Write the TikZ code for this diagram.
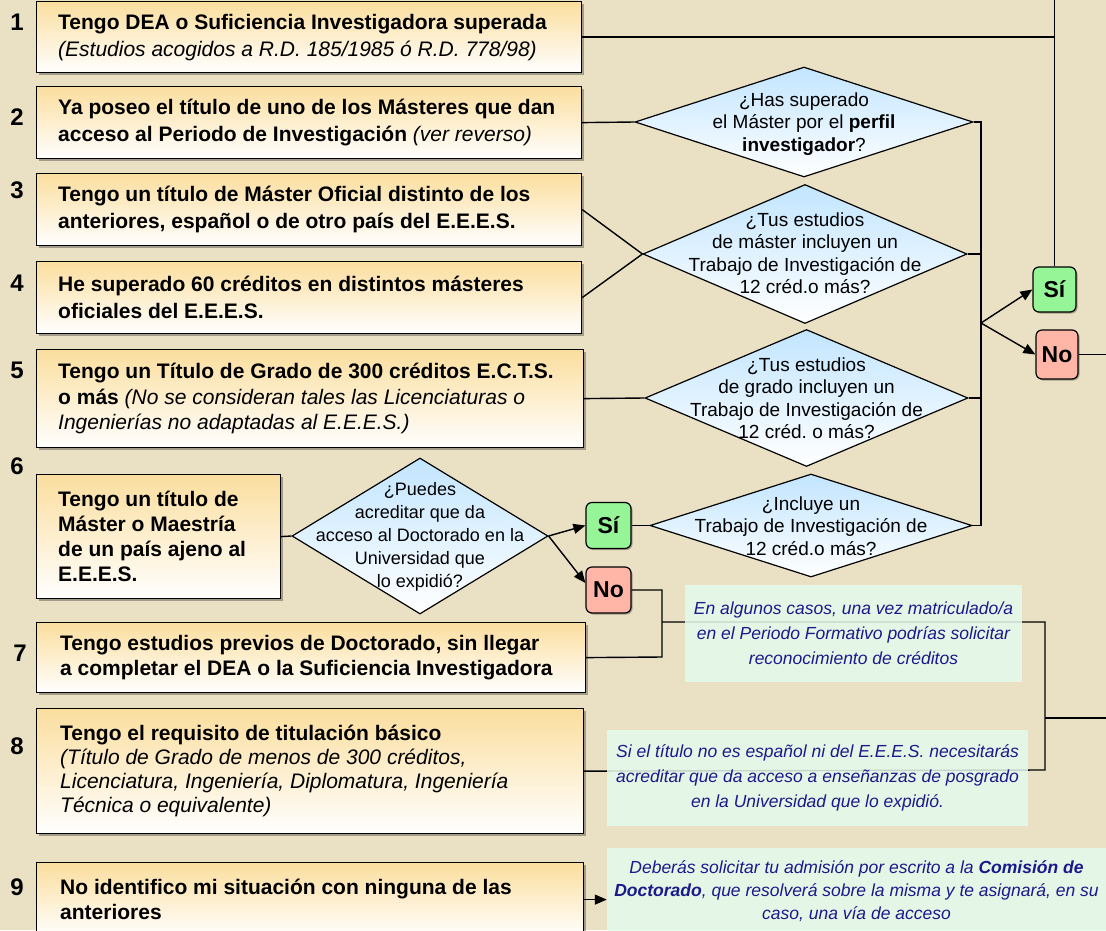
\documentclass[tikz,border=0pt]{standalone}
\usepackage{fontspec}
\setmainfont{Liberation Sans}
\usetikzlibrary{shapes.geometric,arrows.meta,shadows}
\pgfdeclarelayer{bg}
\pgfsetlayers{bg,main}
\definecolor{bgc}{HTML}{EAE0C3}
\definecolor{boxtop}{HTML}{FBDE9E}
\definecolor{dtop}{HTML}{C2E5FF}
\definecolor{sig}{HTML}{96F596}
\definecolor{nor}{HTML}{FFB6A6}
\definecolor{notef}{HTML}{E4FBEC}
\definecolor{notet}{HTML}{1A1A8C}
\frenchspacing
\begin{document}
\begin{tikzpicture}[x=1pt,y=-1pt,
  box/.style={draw, line width=1.2pt, top color=boxtop, bottom color=white, anchor=north west, inner sep=0,
    drop shadow={shadow xshift=2pt, shadow yshift=-2pt, opacity=0.3, fill=black}},
  btxt/.style={align=left, anchor=west, inner sep=0, font=\fontsize{21}{27}\selectfont\bfseries},
  dia/.style={diamond, draw, line width=1.2pt, top color=dtop, bottom color=white, inner sep=0},
  dtxt/.style={align=center, inner sep=0, font=\fontsize{19}{22.5}\selectfont},
  sino/.style={draw, line width=1.2pt, rounded corners=6pt, inner sep=0, font=\fontsize{23}{26}\selectfont\bfseries,
    drop shadow={shadow xshift=1.5pt, shadow yshift=-1.5pt, opacity=0.3, fill=black}},
  num/.style={inner sep=0, font=\fontsize{24}{24}\selectfont\bfseries},
  note/.style={fill=notef, fill opacity=0.85, text opacity=1, text=notet, align=center, inner sep=0,
    font=\fontsize{17.5}{25}\selectfont\itshape},
  conn/.style={line width=1.4pt, draw=black},
  arr/.style={conn, -{Triangle[length=12pt,width=10pt]}}
]
\useasboundingbox (0,0) rectangle (1106,930);
\begin{pgfonlayer}{bg}
\fill[bgc] (0,0) rectangle (1106,930);
\end{pgfonlayer}

% numbers
\node[num] (k1) at (17,22) {1};
\node[num] (k2) at (17,117) {2};
\node[num] (k3) at (17,190) {3};
\node[num] (k4) at (17,283) {4};
\node[num] (k5) at (17,370) {5};
\node[num] (k6) at (17,466) {6};
\node[num] (k7) at (20,653) {7};
\node[num] (k8) at (17,746) {8};
\node[num] (k9) at (17,887) {9};

% boxes
\node[box, minimum width=545, minimum height=71] (b1) at (36,1) {};
\node[btxt] (t1) at ([xshift=22pt]b1.west) {Tengo DEA o Suficiencia Investigadora superada\\{\normalfont\itshape (Estudios acogidos a R.D. 185/1985 ó R.D. 778/98)}};
\node[box, minimum width=545, minimum height=72] (b2) at (36,86) {};
\node[btxt] (t2) at ([xshift=22pt]b2.west) {Ya poseo el título de uno de los Másteres que dan\\acceso al Periodo de Investigación {\normalfont\itshape (ver reverso)}};
\node[box, minimum width=545, minimum height=72] (b3) at (36,173) {};
\node[btxt] (t3) at ([xshift=22pt]b3.west) {Tengo un título de Máster Oficial distinto de los\\anteriores, español o de otro país del E.E.E.S.};
\node[box, minimum width=545, minimum height=72] (b4) at (36,261) {};
\node[btxt] (t4) at ([xshift=22pt]b4.west) {He superado 60 créditos en distintos másteres\\oficiales del E.E.E.S.};
\node[box, minimum width=547, minimum height=98] (b5) at (36,349) {};
\node[btxt, font=\fontsize{21}{25.5}\selectfont\bfseries] (t5) at ([xshift=22pt]b5.west) {Tengo un Título de Grado de 300 créditos E.C.T.S.\\o más {\normalfont\itshape (No se consideran tales las Licenciaturas o}\\{\normalfont\itshape Ingenierías no adaptadas al E.E.E.S.)}};
\node[box, minimum width=244, minimum height=124] (b6) at (36,474) {};
\node[btxt, font=\fontsize{21}{25}\selectfont\bfseries] (t6) at ([xshift=22pt]b6.west) {Tengo un título de\\Máster o Maestría\\de un país ajeno al\\E.E.E.S.};
\node[box, minimum width=549, minimum height=70] (b7) at (36,622) {};
\node[btxt, font=\fontsize{21}{25}\selectfont\bfseries] (t7) at ([xshift=24pt]b7.west) {Tengo estudios previos de Doctorado, sin llegar\\a completar el DEA o la Suficiencia Investigadora};
\node[box, minimum width=547, minimum height=125] (b8) at (36,708) {};
\node[btxt, font=\fontsize{21}{24}\selectfont\bfseries] (t8) at ([xshift=24pt]b8.west) {Tengo el requisito de titulación básico\\{\normalfont\itshape (Título de Grado de menos de 300 créditos,}\\{\normalfont\itshape Licenciatura, Ingeniería, Diplomatura, Ingeniería}\\{\normalfont\itshape Técnica o equivalente)}};
\node[box, minimum width=547, minimum height=74] (b9) at (36,862) {};
\node[btxt, font=\fontsize{21}{25}\selectfont\bfseries] (t9) at ([xshift=24pt]b9.west) {No identifico mi situación con ninguna de las\\anteriores};

% diamonds
\node[dia, minimum width=338, minimum height=110] (d1) at (804,122) {};
\node[dtxt] (dt1) at (804,124) {¿Has superado\\el Máster por el \textbf{perfil}\\\textbf{investigador}?};
\node[dia, minimum width=324, minimum height=139] (d2) at (805,254) {};
\node[dtxt] (dt2) at (805,253) {¿Tus estudios\\de máster incluyen un\\Trabajo de Investigación de\\12 créd.o más?};
\node[dia, minimum width=323, minimum height=137] (d3) at (806.5,398) {};
\node[dtxt] (dt3) at (806.5,398) {¿Tus estudios\\de grado incluyen un\\Trabajo de Investigación de\\12 créd. o más?};
\node[dia, minimum width=322, minimum height=103] (d4) at (811,525.5) {};
\node[dtxt] (dt4) at (811,526) {¿Incluye un\\Trabajo de Investigación de\\12 créd.o más?};
\node[dia, minimum width=256, minimum height=156] (d6) at (420,536) {};
\node[dtxt, font=\fontsize{18}{23}\selectfont] (dt6) at (420,537) {¿Puedes\\acreditar que da\\acceso al Doctorado en la\\Universidad que\\lo expidió?};

% yes / no
\node[sino, fill=sig, minimum width=43, minimum height=45] (si1) at (1054.5,289.5) {Sí};
\node[sino, fill=nor, minimum width=42, minimum height=49] (no1) at (1057,354.5) {No};
\node[sino, fill=sig, minimum width=45, minimum height=46] (si2) at (608.5,525.5) {Sí};
\node[sino, fill=nor, minimum width=45, minimum height=46] (no2) at (608.5,590) {No};

% notes
\node[note, minimum width=337, minimum height=97] (n1) at (853.5,633.5) {En algunos casos, una vez matriculado/a\\en el Periodo Formativo podrías solicitar\\reconocimiento de créditos};
\node[note, minimum width=421, minimum height=96] (n2) at (817.5,778) {Si el título no es español ni del E.E.E.S. necesitarás\\acreditar que da acceso a enseñanzas de posgrado\\en la Universidad que lo expidió.};
\node[note, minimum width=499, minimum height=87, font=\fontsize{17.5}{23}\selectfont\itshape] (n3) at (856.5,891.5) {Deberás solicitar tu admisión por escrito a la \textbf{Comisión de}\\\textbf{Doctorado}, que resolverá sobre la misma y te asignará, en su\\caso, una vía de acceso};

% coordinates
\coordinate (top) at (1054.5,0);
\coordinate (v1) at (981,122);
\coordinate (v4) at (981,525.5);
\coordinate (j1) at (981,323);
\coordinate (r1) at (1106,354.5);
\coordinate (m1) at (662,590);
\coordinate (m2) at (662,657);
\coordinate (m3) at (662,622);
\coordinate (m4) at (1045,622);
\coordinate (m5) at (1045,770);
\coordinate (m6) at (1045,718);
\coordinate (r2) at (1106,718);

\begin{pgfonlayer}{bg}
\draw[conn] (b1.east) -- (b1.east -| top);
\draw[conn] (top) -- (si1.north);
\draw[conn] (b2.east) -- (d1.west);
\draw[conn] (b3.east) -- (d2.west);
\draw[conn] (b4.east) -- (d2.west);
\draw[conn] (b5.east) -- (d3.west);
\draw[conn] (d1.east) -- (v1) -- (v4) -- (d4.east);
\draw[conn] (d2.east) -- (d2.east -| v1);
\draw[conn] (d3.east) -- (d3.east -| v1);
\draw[arr] (j1) -- (si1.west);
\draw[arr] (j1) -- (no1.west);
\draw[conn] (no1.east) -- (r1);
\draw[conn] (b6.east) -- (d6.west);
\draw[arr] (d6.east) -- (si2.west);
\draw[arr] (d6.east) -- ([yshift=7pt]no2.west);
\draw[conn] (si2.east) -- (d4.west);
\draw[conn] (no2.east) -- (m1) -- (m2) -- (b7.east);
\draw[conn] (m3) -- (m4) -- (m5) -- (b8.east);
\draw[conn] (m6) -- (r2);
\draw[arr] (b9.east) -- (b9.east -| n3.west);
\end{pgfonlayer}
\end{tikzpicture}
\end{document}
